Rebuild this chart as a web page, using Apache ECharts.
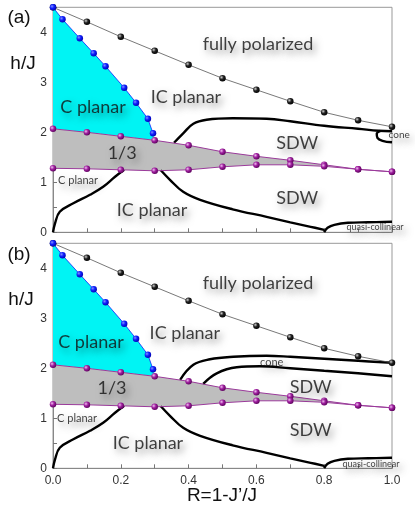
<!DOCTYPE html>
<html><head><meta charset="utf-8">
<script src="https://cdn.jsdelivr.net/npm/echarts@6/dist/echarts.min.js"></script>
<style>html,body{margin:0;padding:0;background:#fff}#c{width:415px;height:513px}</style>
</head><body><div id="c"></div>
<script>
// ---- data ----
const R = [0,0.1,0.2,0.3,0.4,0.5,0.6,0.7,0.8,0.9,1.0];
const hSat = [4.5,4.21,3.91,3.63,3.35,3.08,2.85,2.62,2.40,2.24,2.11];
const hThirdUp = [2.07,2.0,1.92,1.84,1.74,1.61,1.52,1.44,1.35,1.26,1.21];
const hThirdLo = [1.28,1.27,1.25,1.23,1.25,1.31,1.35,1.35,1.32,1.26,1.21];
const cPlanarR = [0,0.028,0.079,0.12,0.155,0.21,0.245,0.28,0.295,0.30];
const cPlanarH = [4.5,4.26,3.88,3.58,3.32,2.89,2.59,2.27,1.98,1.84];

const lowLeftR = [0,0.006,0.02,0.06,0.109,0.148,0.183,0.21];
const lowLeftH = [0,0.18,0.41,0.58,0.75,0.91,1.11,1.25];
const lowRightR = [0.318,0.345,0.384,0.434,0.53,0.63,0.7,0.76,0.8];
const lowRightH = [1.24,1.05,0.81,0.65,0.46,0.31,0.2,0.11,0.05];
const quasiR = [0.8,0.81,0.83,0.87,0.93,1.0];
const quasiH = [0,0.09,0.15,0.19,0.2,0.21];

const upA_R = [0.357,0.384,0.414,0.453,0.53,0.63,0.7,0.8,0.9,0.96,1.0];
const upA_H = [1.79,1.98,2.17,2.25,2.28,2.27,2.22,2.13,2.07,2.03,2.02];
const coneA_R = [0.966,0.955,0.957,0.972,1.0];
const coneA_H = [2.03,1.97,1.89,1.83,1.80];

const upB_R = [0.375,0.414,0.463,0.532,0.63,0.7,0.8,0.9,1.0];
const upB_H = [1.77,2.07,2.18,2.23,2.25,2.23,2.19,2.15,2.11];
const inB_R = [0.443,0.483,0.542,0.61,0.7,0.8,0.9,1.0];
const inB_H = [1.69,1.9,2.02,2.04,2.0,1.95,1.9,1.84];

const xTicks = ['0.0','0.2','0.4','0.6','0.8','1.0'];
const yTicks = ['0','1','2','3','4'];

const labelsA = [
  ['fully polarized',0.605,3.77,'big'],['IC planar',0.392,2.71,'big'],['C planar',0.118,2.51,'big'],
  ['1/3',0.204,1.59,'big'],['SDW',0.72,1.79,'big'],['SDW',0.72,0.69,'big'],['IC planar',0.292,0.45,'big'],
  ['C planar',0.015,1.03,'smallL'],['quasi-collinear',0.95,0.11,'tiny'],['cone',0.99,1.95,'coneL']
];
const labelsB = [
  ['fully polarized',0.605,3.70,'big'],['IC planar',0.389,2.71,'big'],['C planar',0.112,2.53,'big'],
  ['1/3',0.174,1.61,'big'],['SDW',0.76,1.63,'big'],['SDW',0.76,0.77,'big'],['IC planar',0.28,0.51,'big'],
  ['C planar',0.012,1.0,'smallL'],['quasi-collinear',0.938,0.09,'tiny'],['cone',0.645,2.11,'coneC']
];

// ---- build ----
const zip = (a,b) => a.map((v,i)=>[v,b[i]]);
const sphere = (hi, mid, lo) => ({type:'radial', x:0.35, y:0.35, r:0.7,
  colorStops:[{offset:0,color:hi},{offset:0.45,color:mid},{offset:1,color:lo}]});
const PURPLE = sphere('#f0c0f0','#a020a0','#5a005a');
const BLACK = sphere('#d0d0d0','#222','#000');
const BLUE = sphere('#8090ff','#1020ff','#0000b0');
const shadow = {textShadowColor:'rgba(0,0,0,0.5)', textShadowBlur:7, textShadowOffsetX:3, textShadowOffsetY:4};
const TXT = 'Lato, "Noto Sans", sans-serif';

function poly(p, pts, color) {
  return {type:'custom', xAxisIndex:p, yAxisIndex:p, data:[[0,0]], silent:true, z:1, clip:true,
    renderItem:(params, api)=>({type:'polygon', shape:{points:pts.map(q=>api.coord(q))}, style:{fill:color}})};
}
function thick(p, xs, ys) {
  return {type:'line', xAxisIndex:p, yAxisIndex:p, data:zip(xs,ys), smooth:0.4, showSymbol:false,
    symbol:'none', lineStyle:{color:'#000', width:2.4}, z:3, silent:true};
}
function dots(p, xs, ys, lineColor, lw, fill, size, z) {
  return {type:'line', xAxisIndex:p, yAxisIndex:p, data:zip(xs,ys), symbol:'circle', symbolSize:size,
    showAllSymbol:true, lineStyle:{color:lineColor, width:lw}, itemStyle:{color:fill, borderWidth:0}, z:z, silent:true};
}
function labels(p, list) {
  const styles = {
    big:{fontSize:18, align:'center'},
    smallL:{fontSize:11, align:'left'},
    tiny:{fontSize:9, align:'center'},
    coneL:{fontSize:10, align:'left'},
    coneC:{fontSize:11, align:'center'}
  };
  return {type:'scatter', xAxisIndex:p, yAxisIndex:p, symbolSize:0, z:6, silent:true, clip:false,
    data:list.map(l=>({value:[l[1],l[2]], name:l[0],
      label:Object.assign({show:true, position:'inside', formatter:'{b}', color:'#111', fontFamily:TXT,
        verticalAlign:'middle'}, shadow, styles[l[3]])}))};
}

const cyanPts = zip(cPlanarR, cPlanarH).concat([[0.2,hThirdUp[2]],[0.1,hThirdUp[1]],[0,hThirdUp[0]]]);
const greyPts = zip(R.slice(0,10), hThirdUp.slice(0,10)).concat(zip(R.slice(0,10), hThirdLo.slice(0,10)).reverse());

const series = [];
[0,1].forEach(p=>{
  series.push(poly(p, cyanPts, '#00f4f4'));
  series.push(poly(p, greyPts, '#bebebe'));
  series.push(thick(p, lowLeftR, lowLeftH));
  series.push(thick(p, lowRightR, lowRightH));
  series.push(thick(p, quasiR, quasiH));
  if (p===0) { series.push(thick(p, upA_R, upA_H)); series.push(thick(p, coneA_R, coneA_H)); }
  else { series.push(thick(p, upB_R, upB_H)); series.push(thick(p, inB_R, inB_H)); }
  series.push(dots(p, R, hSat, '#555', 0.8, BLACK, 6.5, 4));
  series.push(dots(p, cPlanarR.slice(0,9), cPlanarH.slice(0,9), '#1020ff', 0.8, BLUE, 6.5, 4));
  series.push(dots(p, R, hThirdUp, '#9a3a9a', 1, PURPLE, 6.5, 5));
  series.push(dots(p, R, hThirdLo, '#9a3a9a', 1, PURPLE, 6.5, 5));
  series.push(labels(p, p===0?labelsA:labelsB));
});

const axisFont = {fontFamily:'"Liberation Sans", Arial, sans-serif', fontSize:12, color:'#333'};
const grids = [{left:53, top:7.3, width:339, height:225}, {left:53, top:243.3, width:339, height:225}];
const option = {
  animation:false,
  grid:grids.map(g=>Object.assign({show:true, borderColor:'#999', borderWidth:1, backgroundColor:'transparent'}, g)),
  xAxis:[0,1].map(p=>({gridIndex:p, type:'value', min:0, max:1, interval:0.1,
    axisLine:{show:true, lineStyle:{color:'#888'}}, axisTick:{inside:true, length:4, lineStyle:{color:'#777'}},
    splitLine:{show:false},
    axisLabel:Object.assign({show:p===1, margin:6, hideOverlap:false,
      formatter:v=>{const t=(Math.round(v*10)/10).toFixed(1); return xTicks.includes(t)?t:'';}}, axisFont)})),
  yAxis:[0,1].map(p=>({gridIndex:p, type:'value', min:0, max:4.5, interval:0.5,
    axisLine:{show:true, lineStyle:{color:'#888'}}, axisTick:{inside:true, length:4, lineStyle:{color:'#777'}},
    splitLine:{show:false},
    axisLabel:Object.assign({margin:6, formatter:v=>{const t=String(Math.round(v*2)/2); return yTicks.includes(t)?t:'';}}, axisFont)})),
  graphic:[
    {type:'text', x:19, y:18, style:{text:'(a)', font:'19px "Liberation Sans", Arial', fill:'#111', align:'center', verticalAlign:'middle'}},
    {type:'text', x:19, y:255, style:{text:'(b)', font:'19px "Liberation Sans", Arial', fill:'#111', align:'center', verticalAlign:'middle'}},
    {type:'text', x:23, y:64, style:{text:'h/J', font:'19px "Liberation Sans", Arial', fill:'#111', align:'center', verticalAlign:'middle'}},
    {type:'text', x:21, y:300, style:{text:'h/J', font:'19px "Liberation Sans", Arial', fill:'#111', align:'center', verticalAlign:'middle'}},
    {type:'text', x:222, y:496, style:{text:'R=1-J\u2019/J', font:'19px "Liberation Sans", Arial', fill:'#111', align:'center', verticalAlign:'middle'}}
  ],
  series:series
};
const chart = echarts.init(document.getElementById('c'), null, {renderer:'canvas'});
chart.setOption(option);
</script></body></html>
